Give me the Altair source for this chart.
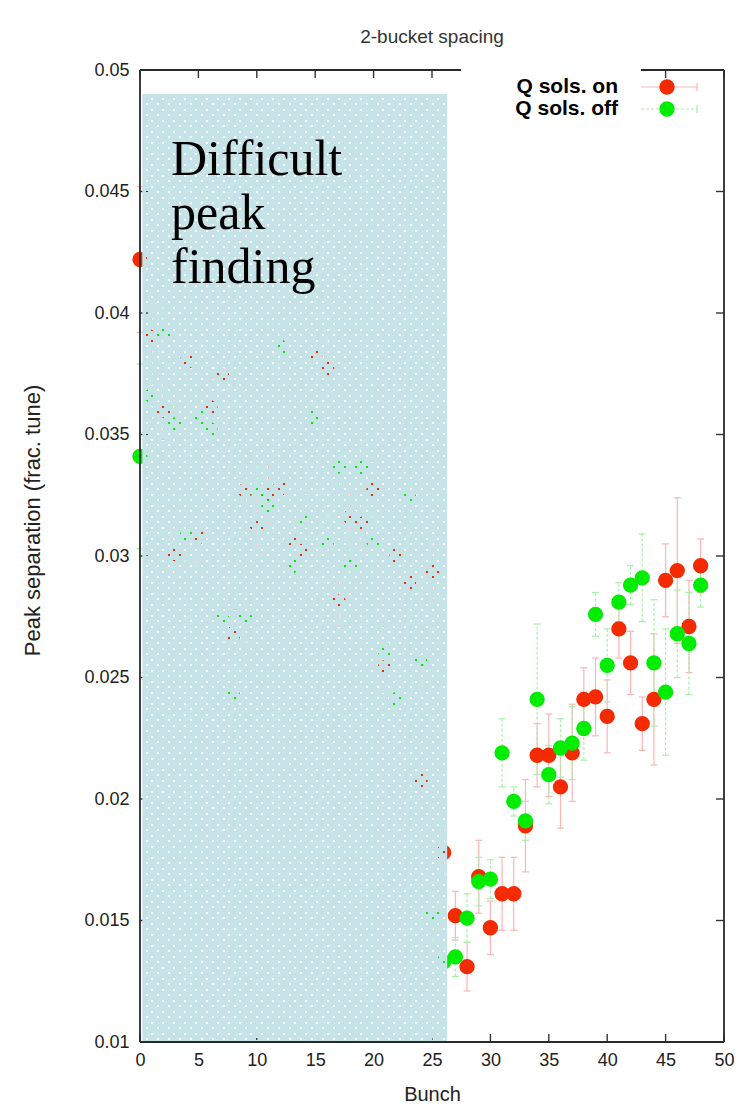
import altair as alt
import numpy as np
import pandas as pd

# ---- measured peak separations (fractional tune) per bunch ----
bunch = list(range(49))

q_on = [0.0422, 0.0390, 0.0360, 0.0301, 0.0380, 0.0308, 0.0361, 0.0374, 0.0268, 0.0327,
        0.0313, 0.0326, 0.0328, 0.0306, 0.0302, 0.0383, 0.0377, 0.0281, 0.0316, 0.0313,
        0.0327, 0.0254, 0.0300, 0.0289, 0.0208, 0.0294, 0.0178, 0.0152, 0.0131, 0.0168,
        0.0147, 0.0161, 0.0161, 0.0189, 0.0218, 0.0218, 0.0205, 0.0219, 0.0241, 0.0242,
        0.0234, 0.0270, 0.0256, 0.0231, 0.0241, 0.0290, 0.0294, 0.0271, 0.0296]
q_on_err = [0.0030, 0.0012, 0.0012, 0.0010, 0.0012, 0.0010, 0.0012, 0.0012, 0.0010, 0.0012,
            0.0012, 0.0012, 0.0012, 0.0010, 0.0010, 0.0012, 0.0012, 0.0010, 0.0012, 0.0010,
            0.0012, 0.0010, 0.0010, 0.0010, 0.0010, 0.0012, 0.0010, 0.0010, 0.0010, 0.0015,
            0.0011, 0.0015, 0.0015, 0.0019, 0.0013, 0.0017, 0.0017, 0.0020, 0.0013, 0.0016,
            0.0015, 0.0012, 0.0013, 0.0011, 0.0027, 0.0015, 0.0030, 0.0019, 0.0011]

q_off = [0.0341, 0.0366, 0.0392, 0.0354, 0.0308, 0.0357, 0.0352, 0.0274, 0.0242, 0.0274,
         0.0327, 0.0320, 0.0386, 0.0296, 0.0315, 0.0357, 0.0306, 0.0337, 0.0297, 0.0336,
         0.0306, 0.0261, 0.0241, 0.0324, 0.0256, 0.0152, 0.0133, 0.0135, 0.0151, 0.0166,
         0.0167, 0.0219, 0.0199, 0.0191, 0.0241, 0.0210, 0.0221, 0.0223, 0.0229, 0.0276,
         0.0255, 0.0281, 0.0288, 0.0291, 0.0256, 0.0244, 0.0268, 0.0264, 0.0288]
q_off_err = [0.0038, 0.0010, 0.0010, 0.0010, 0.0010, 0.0010, 0.0010, 0.0010, 0.0010, 0.0010,
             0.0010, 0.0010, 0.0010, 0.0010, 0.0010, 0.0010, 0.0010, 0.0010, 0.0010, 0.0010,
             0.0010, 0.0010, 0.0010, 0.0010, 0.0010, 0.0010, 0.0008, 0.0008, 0.0010, 0.0010,
             0.0008, 0.0014, 0.0006, 0.0008, 0.0031, 0.0012, 0.0012, 0.0015, 0.0013, 0.0009,
             0.0015, 0.0008, 0.0008, 0.0018, 0.0026, 0.0026, 0.0018, 0.0021, 0.0009]

series_names = ["Q sols. on", "Q sols. off"]
series_colors = ["#f42a00", "#00ec00"]
bar_colors = ["#ffb4b4", "#a8f0a8"]

x_ticks = [0, 5, 10, 15, 20, 25, 30, 35, 40, 45, 50]
y_ticks = [0.01, 0.015, 0.02, 0.025, 0.03, 0.035, 0.04, 0.045, 0.05]

# region where peak finding was unreliable
shade_x = (0.2, 26.3)
shade_y = (0.01, 0.0490)
shade_label = "Difficult\npeak\nfinding"

# ---- layout ----
W, H = 584, 972
X_DOM = (0, 50)
Y_DOM = (0.01, 0.05)
FONT = "Liberation Sans"
TXT = "#222222"

xscale = alt.Scale(domain=list(X_DOM), nice=False, zero=False)
yscale = alt.Scale(domain=list(Y_DOM), nice=False, zero=False)
xaxis = alt.Axis(values=x_ticks, domain=False, ticks=False, tickSize=0, grid=False,
                 labelPadding=9, labelFontSize=18, labelFont=FONT, labelColor=TXT,
                 labelFlush=False, labelOverlap=False,
                 titleFont=FONT, titleFontSize=20, titleFontWeight="normal", titleColor=TXT,
                 titleY=52, titleBaseline="middle")
yaxis = alt.Axis(values=y_ticks, format="~g", domain=False, ticks=False, tickSize=0, grid=False,
                 labelPadding=11, labelFontSize=18, labelFont=FONT, labelColor=TXT,
                 labelFlush=False, labelOverlap=False,
                 titleFont=FONT, titleFontSize=22, titleFontWeight="normal", titleColor=TXT,
                 titleX=-108, titleY=450, titleBaseline="middle", titleAngle=-90)


def X(field):
    return alt.X(field, type="quantitative", scale=xscale, axis=xaxis, title="Bunch")


def Y(field):
    return alt.Y(field, type="quantitative", scale=yscale, axis=yaxis,
                 title="Peak separation (frac. tune)")


rows = []
for name, vals, errs in [(series_names[0], q_on, q_on_err), (series_names[1], q_off, q_off_err)]:
    for b, v, e in zip(bunch, vals, errs):
        rows.append({"bunch": b, "sep": v, "err": e, "series": name})
df = pd.DataFrame(rows)

color = alt.Color("series:N", scale=alt.Scale(domain=series_names, range=series_colors), legend=None)

base = alt.Chart(df).transform_calculate(
    lo="datum.sep - datum.err", hi="datum.sep + datum.err",
    xl="datum.bunch - 0.3", xr="datum.bunch + 0.3")

layers = []
for name, bc, dash in [(series_names[0], bar_colors[0], [1, 0]), (series_names[1], bar_colors[1], [3, 2])]:
    sub = base.transform_filter(alt.datum.series == name)
    layers.append(sub.mark_rule(color=bc, strokeWidth=1.2, strokeDash=dash).encode(
        x=X("bunch"), y=Y("lo:Q"), y2="hi:Q"))
    for end in ["lo", "hi"]:
        layers.append(sub.mark_rule(color=bc, strokeWidth=1.2).encode(
            x=X("xl:Q"), x2="xr:Q", y=Y(f"{end}:Q")))

layers.append(base.mark_circle(size=235, opacity=1).encode(
    x=X("bunch"), y=Y("sep"), color=color))

# inward ticks on all four sides
tick_style = dict(color="#333333", strokeWidth=1.4)
xt = pd.DataFrame({"t": x_ticks})
yt = pd.DataFrame({"t": y_ticks})
layers.append(alt.Chart(xt).mark_rule(**tick_style).encode(x=X("t"), y=alt.value(H), y2=alt.value(H - 8)))
layers.append(alt.Chart(xt).mark_rule(**tick_style).encode(x=X("t"), y=alt.value(0), y2=alt.value(8)))
layers.append(alt.Chart(yt).mark_rule(**tick_style).encode(y=Y("t"), x=alt.value(0), x2=alt.value(8)))
layers.append(alt.Chart(yt).mark_rule(**tick_style).encode(y=Y("t"), x=alt.value(W), x2=alt.value(W - 8)))

# dotted shading: light-blue bands with small square openings on a staggered grid,
# snapped to whole pixels so the openings stay crisp
PERIOD = 5.5      # vertical spacing of hole rows, px
HOLE = 2          # hole size, px
HSTEP = 11.0      # horizontal spacing of holes within one row, px
px_per_y = H / (Y_DOM[1] - Y_DOM[0])
px_per_x = W / (X_DOM[1] - X_DOM[0])
top_px = (Y_DOM[1] - shade_y[1]) * px_per_y
bottom_px = (Y_DOM[1] - shade_y[0]) * px_per_y
x0_px = (shade_x[0] - X_DOM[0]) * px_per_x
dash_off_a = (x0_px + HSTEP - HOLE) % 1.0
dash_off_b = dash_off_a + 5.0

solid, holes_a, holes_b = [], [], []
k = 0
while True:
    t0 = int(round(top_px + k * PERIOD))
    t1 = int(round(top_px + (k + 1) * PERIOD))
    if t0 >= bottom_px:
        break
    s_end = min(t1 - HOLE, bottom_px)
    solid.append({"yc": Y_DOM[1] - (t0 + s_end) / 2 / px_per_y, "w": s_end - t0})
    h_end = min(t1, bottom_px)
    if h_end > s_end:
        row = {"yc": Y_DOM[1] - (s_end + h_end) / 2 / px_per_y, "w": h_end - s_end}
        (holes_a if k % 2 == 0 else holes_b).append(row)
    k += 1

SHADE = "#c6e4e8"
for frame_rows, kwargs in [(solid, {}),
                           (holes_a, {"strokeDash": [HSTEP - HOLE, HOLE], "strokeDashOffset": dash_off_a}),
                           (holes_b, {"strokeDash": [HSTEP - HOLE, HOLE], "strokeDashOffset": dash_off_b})]:
    d = pd.DataFrame(frame_rows)
    d["x0"] = shade_x[0]
    d["x1"] = shade_x[1]
    layers.append(alt.Chart(d).mark_rule(color=SHADE, strokeCap="butt", **kwargs).encode(
        x=X("x0"), x2="x1", y=Y("yc"), strokeWidth=alt.StrokeWidth("w:Q", scale=None)))

layers.append(alt.Chart(pd.DataFrame({"label": [shade_label]})).mark_text(
    font="Liberation Serif", fontSize=50, align="left", baseline="alphabetic",
    lineBreak="\n", lineHeight=54, color="#000000").encode(
    text="label:N", x=alt.value(31), y=alt.value(105)))

# frame
frame = dict(color="#2a2a2a", strokeWidth=1.8)
one = pd.DataFrame({"k": [0]})
layers.append(alt.Chart(one).mark_rule(**frame).encode(x=alt.value(0), y=alt.value(0), y2=alt.value(H)))
layers.append(alt.Chart(one).mark_rule(**frame).encode(x=alt.value(W), y=alt.value(0), y2=alt.value(H)))
layers.append(alt.Chart(one).mark_rule(**frame).encode(x=alt.value(0), x2=alt.value(W), y=alt.value(H)))
layers.append(alt.Chart(one).mark_rule(**frame).encode(x=alt.value(0), x2=alt.value(W), y=alt.value(0)))

# key box
layers.append(alt.Chart(one).mark_rect(color="white").encode(
    x=alt.value(321), x2=alt.value(501), y=alt.value(-4), y2=alt.value(52)))
key_rows = [(series_names[0], series_colors[0], bar_colors[0], [1, 0], 17),
            (series_names[1], series_colors[1], bar_colors[1], [3, 2], 39)]
for name, pc, bc, dash, ky in key_rows:
    kd = pd.DataFrame({"label": [name]})
    layers.append(alt.Chart(kd).mark_text(font=FONT, fontSize=21, fontWeight="bold", align="right",
                                          baseline="middle", color="#000000").encode(
        text="label:N", x=alt.value(478), y=alt.value(ky)))
    layers.append(alt.Chart(kd).mark_rule(color=bc, strokeWidth=1.2, strokeDash=dash).encode(
        x=alt.value(501), x2=alt.value(557), y=alt.value(ky)))
    layers.append(alt.Chart(kd).mark_rule(color=bc, strokeWidth=1.2).encode(
        x=alt.value(557), y=alt.value(ky - 4), y2=alt.value(ky + 4)))
    layers.append(alt.Chart(kd).mark_circle(size=235, opacity=1, color=pc).encode(
        x=alt.value(527), y=alt.value(ky)))

layers.append(alt.Chart(pd.DataFrame({"label": ["2-bucket spacing"]})).mark_text(
    font=FONT, fontSize=19, color="#333333", align="center", baseline="middle").encode(
    text="label:N", x=alt.value(W / 2), y=alt.value(-33)))

chart = alt.layer(*layers).properties(
    width=W, height=H,
    autosize=alt.AutoSizeParams(type="none"),
    padding={"left": 140, "top": 70, "right": 20, "bottom": 66},
    background="white",
).configure_view(stroke=None)

chart.save("out.html", embed_options={"renderer": "svg", "actions": False})
